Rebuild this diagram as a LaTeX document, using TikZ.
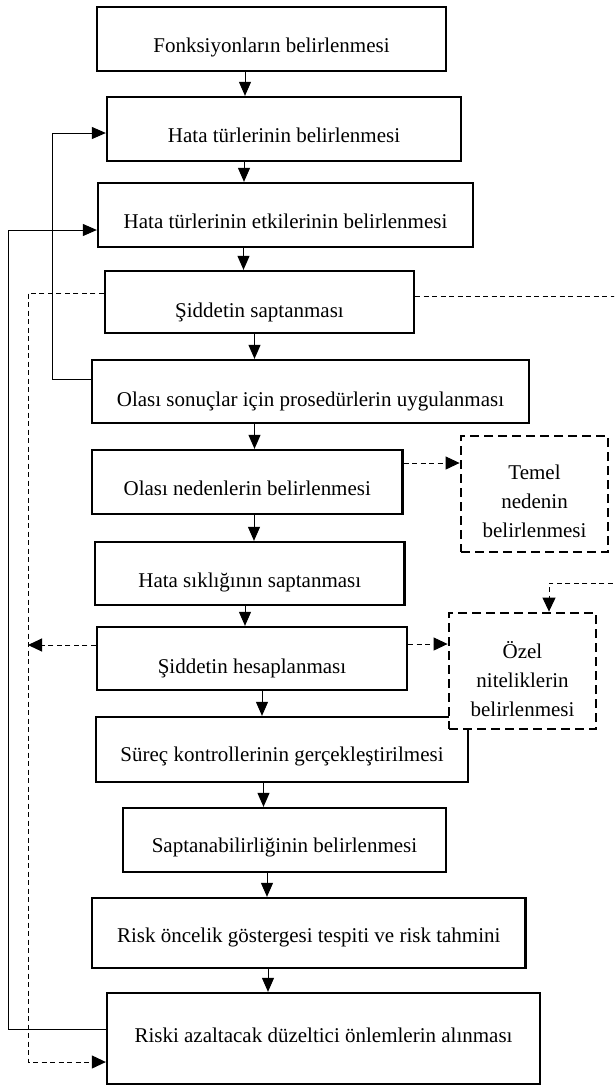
\documentclass[tikz,border=0pt]{standalone}
\usepackage{fontspec}
\setmainfont{Liberation Serif}
\usetikzlibrary{arrows.meta}
\begin{document}
\begin{tikzpicture}[x=1pt,y=-1pt,
  box/.style={draw, line width=2.3pt, fill=white, inner sep=0pt},
  dbox/.style={draw, line width=2.8pt, dash pattern=on 9pt off 5pt, fill=white, inner sep=0pt},
  txt/.style={font=\fontsize{21}{29}\selectfont, text height=14.5pt, text depth=4.5pt, inner sep=0pt},
  mtxt/.style={font=\fontsize{21}{29}\selectfont, align=center, inner sep=0pt},
  arr/.style={line width=1pt, -{Triangle[length=14pt,width=12pt]}},
  darr/.style={line width=1pt, dash pattern=on 5pt off 3.5pt, -{Triangle[length=14pt,width=13pt]}},
]
\useasboundingbox (0,0) rectangle (614,1088);
\clip (0,0) rectangle (614,1088);

% main boxes
\node[box, minimum width=349pt, minimum height=64pt, label={[txt,yshift=-8pt]center:Fonksiyonların belirlenmesi}] (b1) at (271.5,39) {};
\node[box, minimum width=354pt, minimum height=64pt, label={[txt,yshift=-8pt]center:Hata türlerinin belirlenmesi}] (b2) at (284,129) {};
\node[box, minimum width=375pt, minimum height=64pt, label={[txt,yshift=-8pt]center:Hata türlerinin etkilerinin belirlenmesi}] (b3) at (285.5,215) {};
\node[box, minimum width=309pt, minimum height=62pt, label={[txt,yshift=-10pt]center:Şiddetin saptanması}] (b4) at (259.5,302) {};
\node[box, minimum width=437pt, minimum height=63pt, label={[txt,yshift=-9.5pt]center:Olası sonuçlar için prosedürlerin uygulanması}] (b5) at (310.5,391.5) {};
\node[box, minimum width=310.5pt, minimum height=64pt, label={[txt,yshift=-8pt]center:Olası nedenlerin belirlenmesi}] (b6) at (247.25,482) {};
\node[dbox, minimum width=147pt, minimum height=116pt, label={[mtxt,yshift=-7pt]center:Temel\\nedenin\\belirlenmesi}] (temel) at (534.5,494) {};
\node[box, minimum width=309.5pt, minimum height=63pt, label={[txt,yshift=-8.5pt]center:Hata sıklığının saptanması}] (b7) at (249.75,573.5) {};
\node[box, minimum width=310pt, minimum height=63pt, label={[txt,yshift=-9.5pt]center:Şiddetin hesaplanması}] (b8) at (252,658.5) {};
\node[box, minimum width=372pt, minimum height=65pt, label={[txt,yshift=-7pt]center:Süreç kontrollerinin gerçekleştirilmesi}] (b9) at (282,749.5) {};
\node[dbox, minimum width=147pt, minimum height=116pt, label={[mtxt,yshift=-8.5pt]center:Özel\\niteliklerin\\belirlenmesi}] (ozel) at (522.5,671) {};
\node[box, minimum width=323pt, minimum height=64pt, label={[txt,yshift=-7pt]center:Saptanabilirliğinin belirlenmesi}] (b10) at (284.5,840) {};
\node[box, minimum width=433.5pt, minimum height=70pt, label={[txt,yshift=-4pt]center:Risk öncelik göstergesi tespiti ve risk tahmini}] (b11) at (308.75,933) {};
\node[box, minimum width=433pt, minimum height=91pt, label={[txt,yshift=1.5pt]center:Riski azaltacak düzeltici önlemlerin alınması}] (b12) at (323.5,1038.5) {};

% x positions of the main arrows
\coordinate (a1) at (245,0);
\coordinate (a2) at (244,0);
\coordinate (a3) at (243.5,0);
\coordinate (a4) at (254.5,0);
\coordinate (a5) at (254.5,0);
\coordinate (a6) at (254,0);
\coordinate (a7) at (245,0);
\coordinate (a8) at (262,0);
\coordinate (a9) at (263.5,0);
\coordinate (a10) at (267,0);
\coordinate (a11) at (268,0);

\draw[arr] (b1.south -| a1) -- (b2.north -| a1);
\draw[arr] (b2.south -| a2) -- (b3.north -| a2);
\draw[arr] (b3.south -| a3) -- (b4.north -| a3);
\draw[arr] (b4.south -| a4) -- (b5.north -| a4);
\draw[arr] (b5.south -| a5) -- (b6.north -| a5);
\draw[arr] (b6.south -| a6) -- (b7.north -| a6);
\draw[arr] (b7.south -| a7) -- (b8.north -| a7);
\draw[arr] (b8.south -| a8) -- (b9.north -| a8);
\draw[arr] (b9.south -| a9) -- (b10.north -| a9);
\draw[arr] (b10.south -| a10) -- (b11.north -| a10);
\draw[arr] (b11.south -| a11) -- (b12.north -| a11);

% solid feedback loops
\coordinate (k1) at (52,379);
\coordinate (k2) at (52,133);
\draw[arr] (b5.west |- k1) -- (k1) -- (k2) -- (b2.west |- k2);
\coordinate (o1) at (8,1029);
\coordinate (o2) at (8,230);
\draw[arr] (b12.west |- o1) -- (o1) -- (o2) -- (b3.west |- o2);

% dashed connectors
\coordinate (d1) at (28,293);
\coordinate (d2) at (28,1062);
\draw[darr] (b4.west |- d1) -- (d1) -- (d2) -- (b12.west |- d2);
\coordinate (d3) at (28,645);
\draw[darr] (b8.west |- d3) -- (d3);
\coordinate (d4) at (0,463);
\draw[darr] (b6.east |- d4) -- (temel.west |- d4);
\coordinate (d5) at (0,644);
\draw[darr] (b8.east |- d5) -- (ozel.west |- d5);
\coordinate (r1) at (617,296);
\coordinate (r2) at (617,583);
\coordinate (r3) at (549,583);
\draw[darr] (b4.east |- r1) -- (r1) -- (r2) -- (r3) -- (ozel.north -| r3);
\end{tikzpicture}
\end{document}
